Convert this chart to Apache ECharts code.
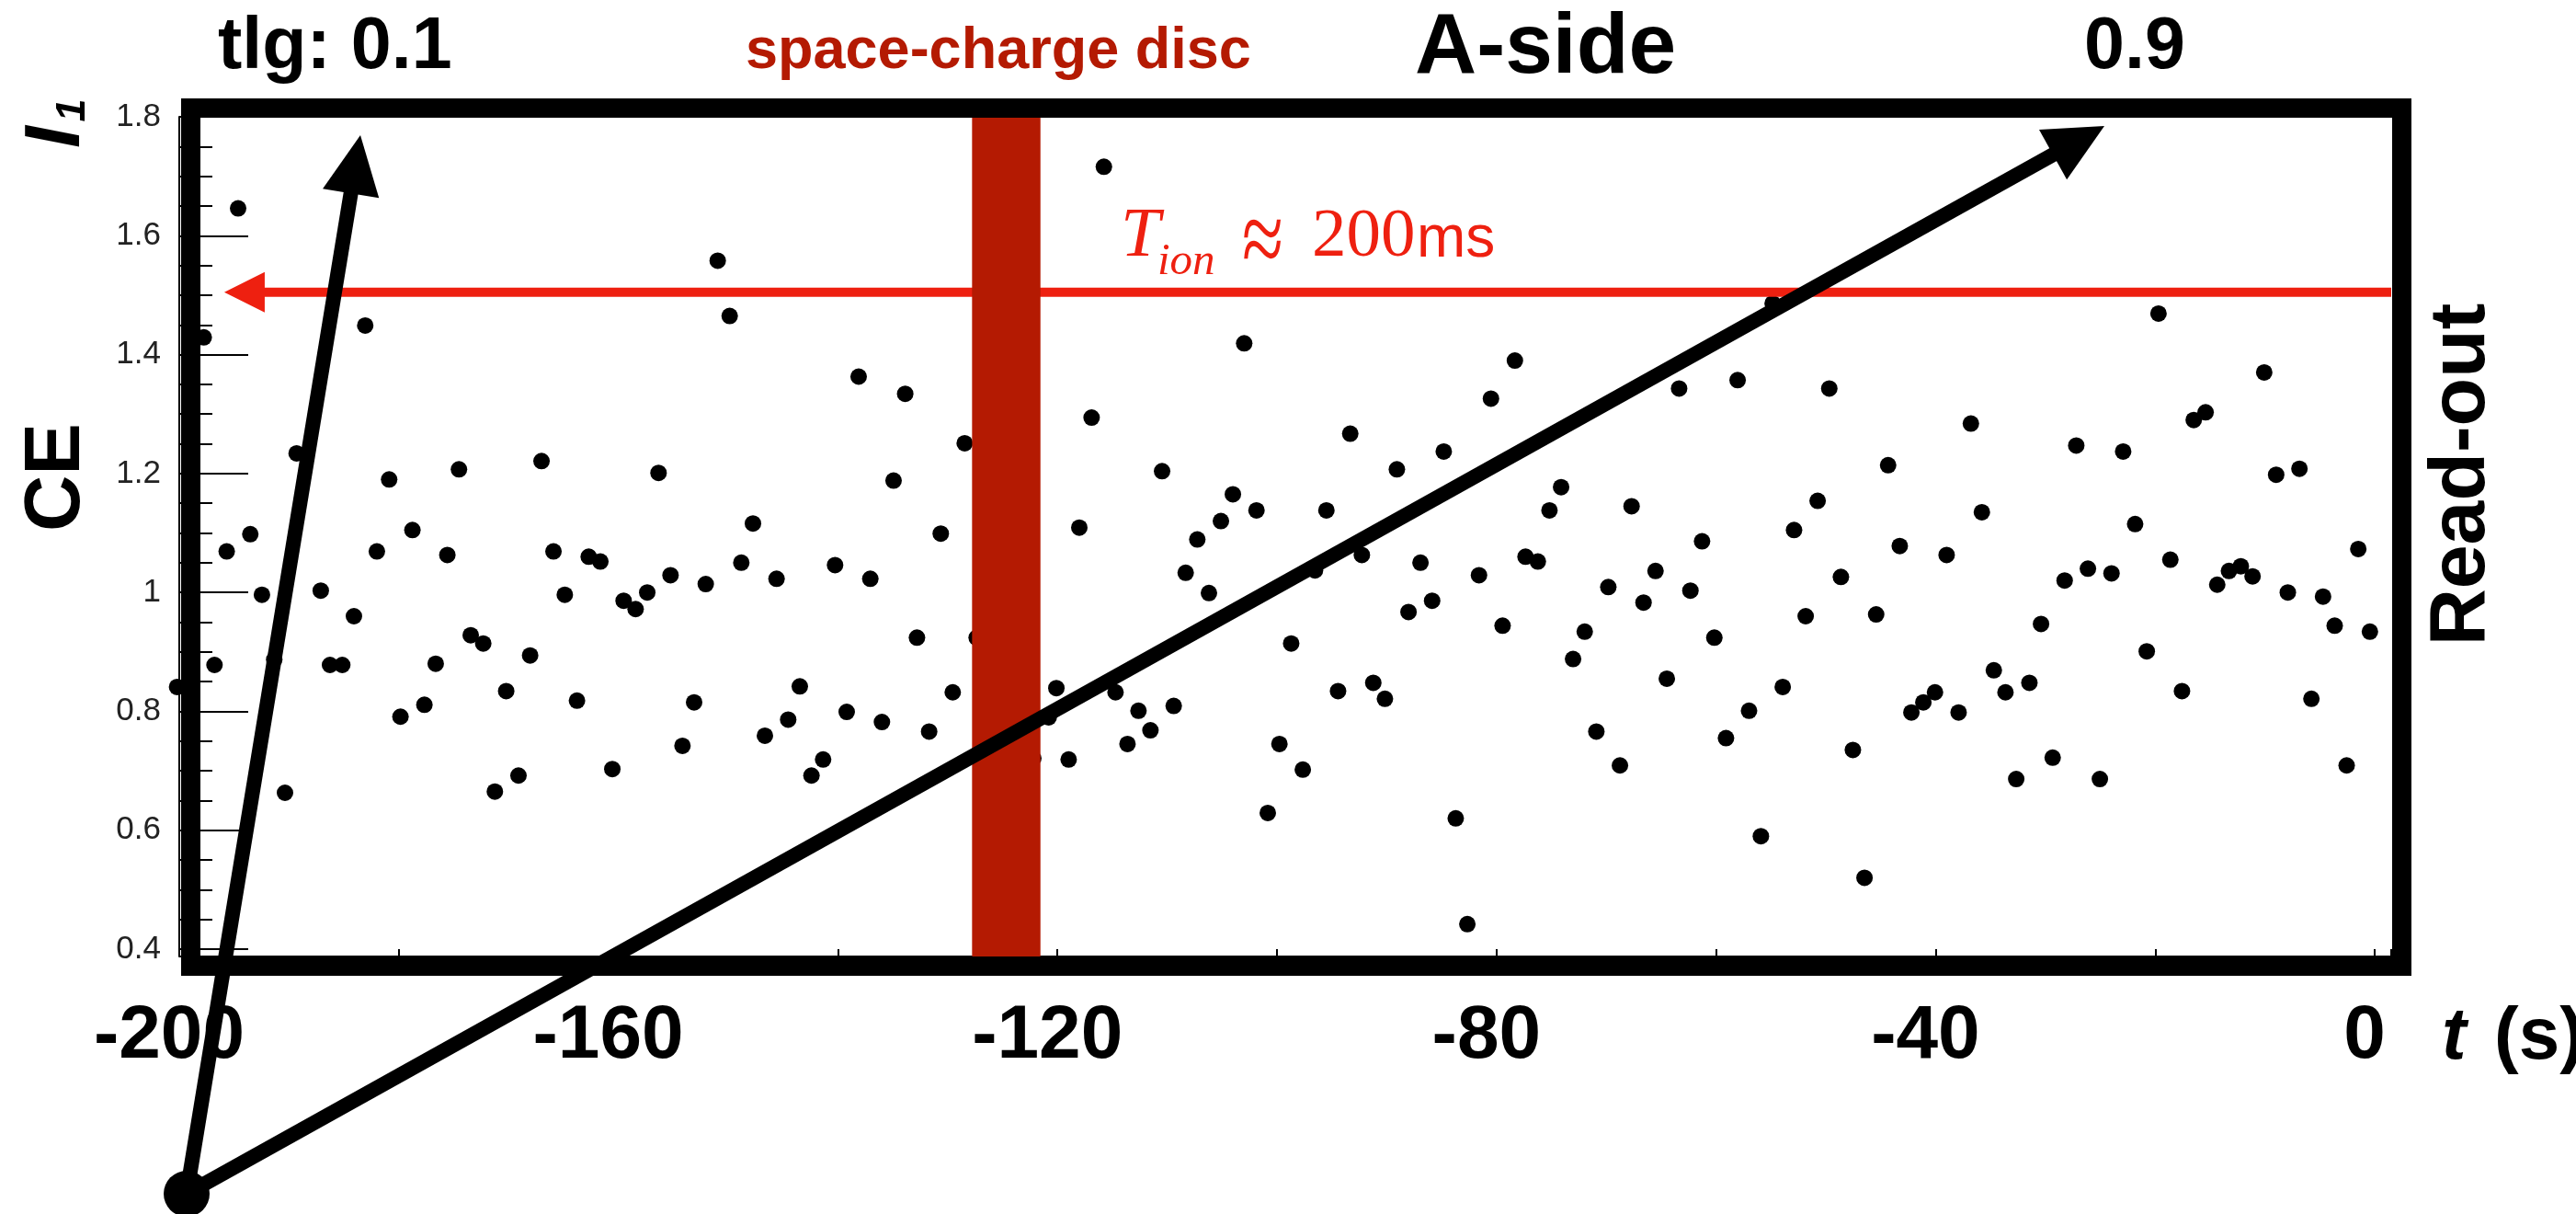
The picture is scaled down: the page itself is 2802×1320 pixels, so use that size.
<!DOCTYPE html>
<html><head><meta charset="utf-8">
<script src="https://cdn.jsdelivr.net/npm/echarts@6/dist/echarts.min.js"></script>
<style>html,body{margin:0;padding:0;background:#fff;}#c{width:2802px;height:1320px;}</style>
</head><body><div id="c"></div>
<script>
// ---- data ----
const times = [
-200.2,-197.77,-196.79,-195.68,-194.64,-193.53,-192.47,-191.35,-190.37,-189.31,
-187.11,-186.27,-185.15,-184.09,-183.06,-182.00,-180.88,-179.85,-178.76,-177.67,
-176.64,-175.58,-174.52,-173.45,-172.31,-171.25,-170.22,-169.10,-168.04,-167.0,
-165.91,-164.88,-163.77,-162.70,-161.64,-160.55,-159.52,-158.43,-157.37,-156.34,
-155.25,-154.16,-153.10,-152.04,-150.95,-149.86,-148.80,-147.74,-146.65,-145.59,
-144.53,-143.47,-142.41,-141.35,-140.26,-139.20,-138.11,-137.05,-135.99,-134.93,
-133.87,-132.80,-131.69,-130.63,-129.54,-128.45,-127.36,-122.2,-120.80,-120.10,
-118.98,-118.01,-116.89,-115.77,-114.71,-113.62,-112.62,-111.53,-110.47,-109.41,
-108.32,-107.26,-106.20,-105.11,-104.02,-102.99,-101.87,-100.84,-99.78,-98.71,
-97.65,-96.54,-95.50,-94.44,-93.33,-92.27,-91.23,-90.17,-89.08,-88.02,
-86.93,-85.87,-84.81,-83.72,-82.66,-81.60,-80.51,-79.45,-78.33,-77.36,
-76.24,-75.18,-74.12,-73.03,-71.97,-70.91,-69.82,-68.76,-67.70,-66.61,
-65.52,-64.49,-63.37,-62.34,-61.28,-60.16,-59.10,-58.04,-57.00,-55.92,
-54.85,-53.93,-52.90,-51.84,-50.75,-49.69,-48.63,-47.54,-46.48,-45.42,
-44.33,-43.27,-42.21,-41.12,-40.06,-39.00,-37.91,-36.79,-35.79,-34.70,
-33.64,-32.66,-31.46,-30.40,-29.34,-28.25,-27.19,-26.13,-25.04,-23.98,
-22.92,-21.83,-20.77,-19.70,-18.62,-17.56,-16.49,-15.41,-14.35,-13.28,
-12.20,-11.13,-10.07,-8.98,-7.92,-6.86,-5.77,-4.71,-3.65,-2.56,
-1.50,-0.44
];
const ceValues = [
0.841,1.429,0.878,1.069,1.646,1.098,0.996,0.887,0.663,1.234,
1.003,0.878,0.878,0.960,1.449,1.069,1.190,0.791,1.105,0.811,
0.880,1.063,1.207,0.928,0.914,0.665,0.834,0.692,0.894,1.221,
1.069,0.996,0.818,1.060,1.052,0.703,0.986,0.972,1.000,1.201,
1.029,0.742,0.815,1.014,1.558,1.465,1.050,1.116,0.759,1.023,
0.786,0.842,0.692,0.719,1.046,0.799,1.363,1.023,0.782,1.188,
1.334,0.924,0.766,1.099,0.832,1.251,0.924,0.721,0.790,0.839,
0.719,1.109,1.294,1.716,0.832,0.745,0.801,0.768,1.204,0.809,
1.033,1.089,0.999,1.120,1.165,1.419,1.138,0.629,0.745,0.914,
0.702,1.037,1.138,0.834,1.267,1.063,0.848,0.821,1.207,0.967,
1.050,0.986,1.237,0.620,0.442,1.029,1.326,0.944,1.390,1.060,
1.052,1.138,1.177,0.888,0.934,0.766,1.009,0.709,1.145,0.983,
1.036,0.855,1.343,1.003,1.086,0.924,0.755,1.357,0.801,0.590,
1.486,0.841,1.105,0.960,1.154,1.343,1.026,0.735,0.520,0.963,
1.214,1.078,0.798,0.815,0.832,1.063,0.798,1.284,1.135,0.869,
0.832,0.686,0.848,0.947,0.722,1.020,1.247,1.040,0.686,1.032,
1.237,1.115,0.901,1.469,1.055,0.834,1.290,1.303,1.013,1.036,
1.044,1.027,1.370,1.198,1.000,1.208,0.821,0.993,0.944,0.709,
1.073,0.934
];
const xTickLabels = [-200, -160, -120, -80, -40, 0];
const yTickLabels = [0.4, 0.6, 0.8, 1.0, 1.2, 1.4, 1.6, 1.8];
const discRange = [-127.78, -121.55];      // space-charge disc band (s)
const ionLineCE = 1.505;                   // level of the T_ion arrow
const ionArrowRange = [-195.9, 1.5];       // T_ion arrow extent (s)

// ---- chart ----
const chart = echarts.init(document.getElementById('c'), null, {renderer: 'canvas'});
const SANS = '"Liberation Sans", Arial, Helvetica, sans-serif';
const SERIF = '"Liberation Serif", "Times New Roman", serif';
const option = {
  animation: false,
  backgroundColor: '#fff',
  grid: {left: 195, right: 201, top: 127, bottom: 288, containLabel: false, outerBoundsMode: 'none'},
  xAxis: {
    type: 'value', min: -200, max: 1.5, interval: 20, offset: 8,
    axisLine: {show: true, onZero: false, lineStyle: {color: '#000', width: 2}},
    axisTick: {show: true, inside: true, length: 8, lineStyle: {color: '#000', width: 2}},
    splitLine: {show: false},
    axisLabel: {
      formatter: v => xTickLabels.indexOf(Math.round(v)) >= 0 && Math.abs(v - Math.round(v)) < 1e-6 ? String(Math.round(v)) : '',
      fontSize: 82, fontWeight: 'bold', fontFamily: SANS, color: '#000', margin: 46,
      padding: [0, 22, 0, 0]
    }
  },
  yAxis: {
    type: 'value', min: yTickLabels[0], max: yTickLabels[yTickLabels.length - 1], interval: 0.2,
    axisLine: {show: true, onZero: false, lineStyle: {color: '#000', width: 2}},
    axisTick: {show: true, inside: true, length: 75, lineStyle: {color: '#000', width: 2}},
    minorTick: {show: true, splitNumber: 4, length: 36, lineStyle: {color: '#000', width: 2}},
    splitLine: {show: false},
    axisLabel: {
      formatter: v => String(parseFloat(v.toFixed(2))),
      fontSize: 35, fontFamily: SANS, color: '#222', margin: 20
    }
  },
  series: [{
    type: 'scatter', clip: false, symbol: 'circle', symbolSize: 18,
    itemStyle: {color: '#000', opacity: 1},
    emphasis: {disabled: true},
    data: times.map((t, i) => [t, ceValues[i]]),
    z: 2
  }]
};
chart.setOption(option);

function px(x, y) { return chart.convertToPixel({gridIndex: 0}, [x, y]); }
const G = [];
// T_ion red arrow (line under the band)
const a0 = px(ionArrowRange[0], ionLineCE), a1 = px(ionArrowRange[1], ionLineCE);
G.push({type: 'line', z: 10, shape: {x1: a0[0] + 40, y1: a0[1], x2: a1[0], y2: a1[1]}, style: {stroke: '#ee2010', lineWidth: 10}});
G.push({type: 'polygon', z: 10, shape: {points: [[a0[0], a0[1]], [a0[0] + 44, a0[1] - 22], [a0[0] + 44, a0[1] + 22]]}, style: {fill: '#ee2010'}});
// space-charge disc band
const b0 = px(discRange[0], yTickLabels[yTickLabels.length - 1]), b1 = px(discRange[1], yTickLabels[0]);
G.push({type: 'rect', z: 11, shape: {x: b0[0], y: b0[1], width: b1[0] - b0[0], height: b1[1] - b0[1] + 11}, style: {fill: '#b41a02'}});
// thick frame
G.push({type: 'rect', z: 20, shape: {x: 207.5, y: 117.5, width: 2405, height: 933}, style: {fill: null, stroke: '#000', lineWidth: 21}});
// black arrows from the dot
function arrow(cx, cy, tx, ty) {
  const dx = tx - cx, dy = ty - cy, L = Math.hypot(dx, dy), ux = dx / L, uy = dy / L;
  const bx = tx - 64 * ux, by = ty - 64 * uy, nx = -uy, ny = ux;
  G.push({type: 'line', z: 30, shape: {x1: cx, y1: cy, x2: bx + 4 * ux, y2: by + 4 * uy}, style: {stroke: '#000', lineWidth: 16}});
  G.push({type: 'polygon', z: 30, shape: {points: [[tx, ty], [bx + 31 * nx, by + 31 * ny], [bx - 31 * nx, by - 31 * ny]]}, style: {fill: '#000'}});
}
arrow(203, 1298, 392, 147);
arrow(203, 1298, 2289, 137);
G.push({type: 'circle', z: 31, shape: {cx: 203, cy: 1298, r: 25}, style: {fill: '#000'}});
// texts
function txt(s, x, y, font, fill, rot, align, sy) {
  G.push({type: 'text', z: 40, x: x, y: y, rotation: rot || 0, scaleY: sy || 1,
    style: {text: s, font: font, fill: fill, align: align || 'left', verticalAlign: 'middle', textAlign: align || 'left', textVerticalAlign: 'middle'}});
}
txt('tlg: 0.1', 237, 52.6, 'bold 79px ' + SANS, '#000');
txt('space-charge disc', 811, 56.2, 'bold 63px ' + SANS, '#b41a02');
txt('A-side', 1539, 53.8, 'bold 93px ' + SANS, '#000');
txt('0.9', 2267, 52.6, 'bold 79px ' + SANS, '#000');
txt('T', 1219, 258, 'italic 77px ' + SERIF, '#ee2010');
txt('ion', 1259, 285, 'italic 49px ' + SERIF, '#ee2010');
txt('\u2248', 1351, 268, '82px ' + SERIF, '#ee2010', 0, 'left', 1.4);
txt('200', 1427, 258.7, '75px ' + SERIF, '#ee2010');
txt('ms', 1541, 261.8, '64px ' + SANS, '#ee2010');
txt('t', 2656, 1129, 'italic bold 80px ' + SANS, '#000');
txt('(s)', 2713, 1129, 'bold 80px ' + SANS, '#000');
txt('CE', 62.5, 519, 'bold 85px ' + SANS, '#000', Math.PI / 2, 'center');
txt('Read-out', 2678, 516, 'bold 86px ' + SANS, '#000', Math.PI / 2, 'center');
txt('I', 62, 149, 'italic bold 86px ' + SANS, '#000', Math.PI / 2, 'center');
txt('1', 80, 120, 'italic bold 45px ' + SANS, '#000', Math.PI / 2, 'center');
chart.setOption({graphic: {elements: G}});
</script>
</body></html>
